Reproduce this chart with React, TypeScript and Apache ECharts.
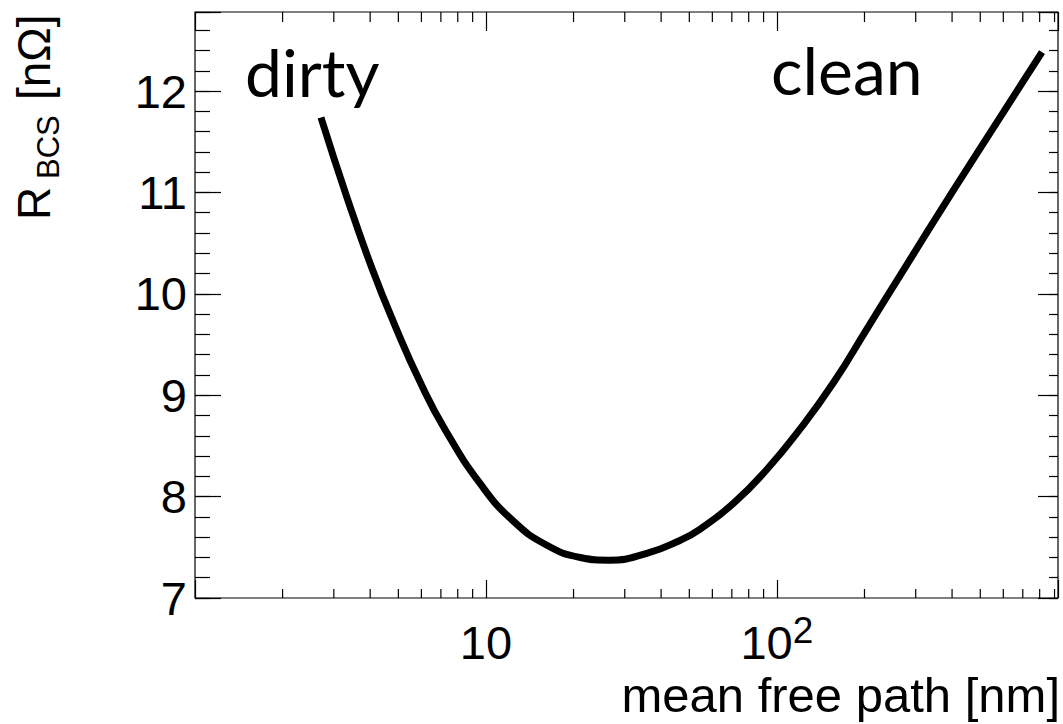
import React, { useEffect, useRef } from 'react';
import * as echarts from 'echarts';

// mean free path [nm] (log axis) and R_BCS [nΩ]
const pathNm = [2.71, 3.33, 4.06, 4.88, 5.94, 7.24, 9.6, 12.4, 16.2, 21.1, 26.5, 35.7, 46.6, 54.5, 71, 92.5, 120, 157, 204, 265, 400, 600, 815];
const rBcs = [11.74, 10.95, 10.25, 9.68, 9.13, 8.66, 8.12, 7.76, 7.52, 7.40, 7.373, 7.44, 7.57, 7.68, 7.935, 8.27, 8.665, 9.13, 9.655, 10.18, 11.0, 11.79, 12.385];

const xMin = 1;
const xMax = 925;
const yMin = 7;
const yMax = 12.78;
const xMinorTicks = [2, 3, 4, 5, 6, 7, 8, 9, 20, 30, 40, 50, 60, 70, 80, 90, 200, 300, 400, 500, 600, 700, 800, 900];

const xTitle = 'mean free path [nm]';
const yTitleMain = 'R';
const yTitleSub = 'BCS';
const yTitleUnit = '[nΩ]';
const noteLeft = 'dirty';
const noteRight = 'clean';

const FONT = 'Liberation Sans, Arial, sans-serif';

export default function App() {
  const ref = useRef<HTMLDivElement>(null);
  useEffect(() => {
    if (!ref.current) return;
    const chart = echarts.init(ref.current, undefined, { renderer: 'svg' });
    const tickStyle = { color: '#000', width: 1.2 };
    const isNear = (v: number, t: number) => Math.abs(v - t) < 1e-6 * t;
    const option: any = {
      animation: false,
      backgroundColor: '#fff',
      grid: { left: 195, top: 12, right: 5, bottom: 126, show: true, borderColor: '#000', borderWidth: 1.2, backgroundColor: 'transparent' },
      xAxis: [
        {
          type: 'log', logBase: 10, min: xMin, max: xMax, position: 'bottom',
          axisLine: { show: false },
          axisTick: { show: true, inside: true, length: 18, lineStyle: tickStyle },
          splitLine: { show: false },
          axisLabel: {
            margin: 14,
            color: '#000',
            fontFamily: FONT,
            fontSize: 47,
            formatter: (v: number) => {
              if (isNear(v, 10)) return '{p|10}';
              if (isNear(v, 100)) return '{b|10}{s|2}';
              return '';
            },
            rich: {
              p: { fontFamily: FONT, fontSize: 47, color: '#000', lineHeight: 54, verticalAlign: 'bottom' },
              b: { fontFamily: FONT, fontSize: 47, color: '#000', lineHeight: 54, verticalAlign: 'bottom' },
              s: { fontFamily: FONT, fontSize: 37, color: '#000', lineHeight: 37, verticalAlign: 'top' },
            },
          },
        },
        {
          type: 'log', logBase: 10, min: xMin, max: xMax, position: 'top',
          axisLine: { show: false },
          axisTick: { show: true, inside: true, length: 19, lineStyle: tickStyle },
          splitLine: { show: false },
          axisLabel: { show: false },
        },
      ],
      yAxis: [
        {
          type: 'value', min: yMin, max: yMax, interval: 1, position: 'left',
          axisLine: { show: false },
          axisTick: { show: true, inside: true, length: 26, lineStyle: tickStyle },
          splitLine: { show: false },
          axisLabel: {
            margin: 8, color: '#000', fontFamily: FONT, fontSize: 47,
            formatter: (v: number) => (Math.abs(v - Math.round(v)) < 1e-6 ? String(Math.round(v)) : ''),
          },
        },
        {
          type: 'value', min: yMin, max: yMax, interval: 0.2, position: 'left',
          axisLine: { show: false },
          axisTick: { show: true, inside: true, length: 15, lineStyle: tickStyle },
          splitLine: { show: false },
          axisLabel: { show: false },
        },
        {
          type: 'value', min: yMin, max: yMax, interval: 1, position: 'right',
          axisLine: { show: false },
          axisTick: { show: true, inside: true, length: 20, lineStyle: tickStyle },
          splitLine: { show: false },
          axisLabel: { show: false },
        },
        {
          type: 'value', min: yMin, max: yMax, interval: 0.2, position: 'right',
          axisLine: { show: false },
          axisTick: { show: true, inside: true, length: 9, lineStyle: tickStyle },
          splitLine: { show: false },
          axisLabel: { show: false },
        },
      ],
      series: [
        {
          type: 'custom',
          xAxisIndex: 0,
          yAxisIndex: 0,
          silent: true,
          clip: false,
          data: xMinorTicks.map((v) => [v, yMin]),
          renderItem: (params: any, api: any) => {
            const v = api.value(0);
            const b = api.coord([v, yMin]);
            const t = api.coord([v, yMax]);
            const st = { stroke: '#000', lineWidth: 1.2 };
            return {
              type: 'group',
              children: [
                { type: 'line', shape: { x1: b[0], y1: b[1], x2: b[0], y2: b[1] - 9 }, style: st },
                { type: 'line', shape: { x1: t[0], y1: t[1], x2: t[0], y2: t[1] + 10 }, style: st },
              ],
            };
          },
        },
        {
          type: 'line',
          xAxisIndex: 0,
          yAxisIndex: 0,
          data: pathNm.map((x, i) => [x, rBcs[i]]),
          showSymbol: false,
          smooth: 0.5,
          lineStyle: { color: '#000', width: 7 },
          silent: true,
          z: 5,
        },
      ],
      graphic: [
        { type: 'text', x: 245, y: 71, style: { text: noteLeft, fontFamily: 'Lato, sans-serif', fontSize: 66, fill: '#000', align: 'left', verticalAlign: 'middle' } },
        { type: 'text', x: 771, y: 69, style: { text: noteRight, fontFamily: 'Lato, sans-serif', fontSize: 66, fill: '#000', align: 'left', verticalAlign: 'middle' } },
        { type: 'text', x: 1060, y: 695, style: { text: xTitle, fontFamily: FONT, fontSize: 49, fill: '#000', align: 'right', verticalAlign: 'middle' } },
        { type: 'text', x: 34, y: 220, rotation: Math.PI / 2, style: { text: yTitleMain, fontFamily: FONT, fontSize: 46, fill: '#000', align: 'left', verticalAlign: 'middle' } },
        { type: 'text', x: 48.5, y: 179, rotation: Math.PI / 2, style: { text: yTitleSub, fontFamily: FONT, fontSize: 31, fill: '#000', align: 'left', verticalAlign: 'middle' } },
        { type: 'text', x: 34, y: 100, rotation: Math.PI / 2, style: { text: yTitleUnit, fontFamily: FONT, fontSize: 46, fill: '#000', align: 'left', verticalAlign: 'middle' } },
      ],
    };
    chart.setOption(option);
    return () => chart.dispose();
  }, []);
  return (
    <div
      ref={ref}
      style={{ position: 'fixed', left: 0, top: 0, width: 1063, height: 724, background: '#fff' }}
    />
  );
}
